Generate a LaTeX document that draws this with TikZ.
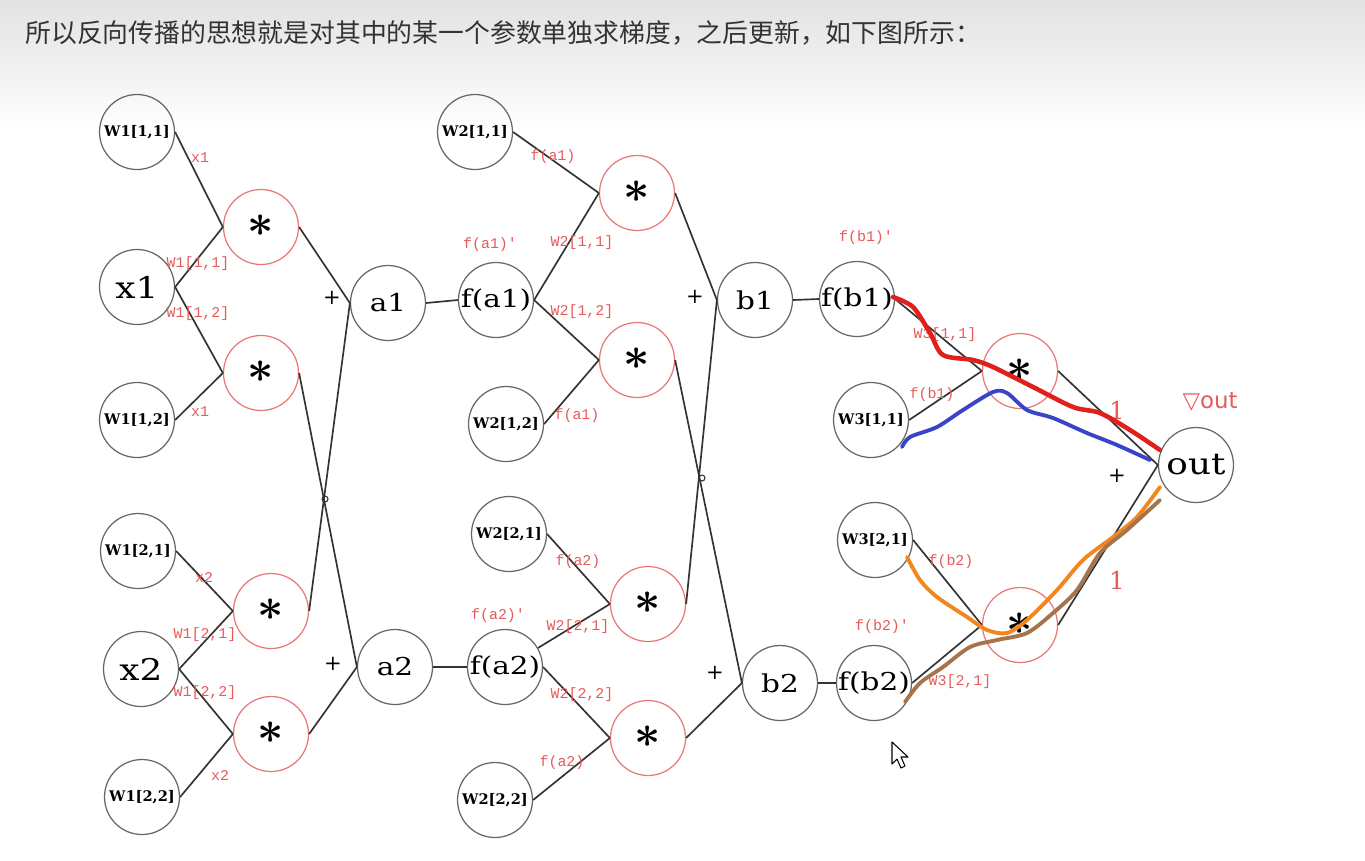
\documentclass[tikz,border=0pt]{standalone}
\usepackage{fontspec}
\usepackage{graphicx}
\newfontfamily\nodefont[FakeStretch=1.2]{DejaVu Serif}
\newfontfamily\wfont{DejaVu Serif}
\newfontfamily\lblfont{Liberation Mono}
\newfontfamily\cjk{Noto Sans CJK SC}
\newfontfamily\symfont{DejaVu Sans}
\definecolor{ngray}{HTML}{666666}
\definecolor{lgray}{HTML}{333333}
\definecolor{rcirc}{HTML}{E87878}
\definecolor{rlbl}{HTML}{E85A5A}
\definecolor{htxt}{HTML}{333333}
\definecolor{hbg}{HTML}{E2E2E2}
\definecolor{pred}{HTML}{E0201C}
\definecolor{pblue}{HTML}{3A44C8}
\definecolor{porange}{HTML}{F3861E}
\definecolor{pbrown}{HTML}{A5744C}
\newcommand\mulsym{\raisebox{2pt}{\scalebox{2.6}{\boldmath$\ast$}}}
\begin{document}
\begin{tikzpicture}[x=0.02cm,y=-0.02cm,
 nd/.style={circle, draw=ngray, line width=0.7pt, minimum size=1.5cm, inner sep=0pt, font=\nodefont\fontsize{14}{14}\selectfont},
 bigtxt/.style={font=\nodefont\fontsize{17}{17}\selectfont},
 wn/.style={font=\wfont\bfseries\fontsize{8.3}{9}\selectfont},
 rd/.style={circle, draw=rcirc, line width=0.7pt, minimum size=1.5cm, inner sep=0pt},
 lbl/.style={text=rlbl, font=\lblfont\fontsize{8.5}{9}\selectfont, inner sep=0pt},
 ln/.style={draw=lgray, line width=0.95pt},
 pls/.style={font=\wfont\fontsize{12}{12}\selectfont, inner sep=0pt},
 onelbl/.style={text=rlbl, font=\wfont\fontsize{14}{14}\selectfont, inner sep=0pt},
 pen/.style={line width=2.2pt, line cap=round, line join=round}
]
\useasboundingbox (0,0) rectangle (1365,860);
\fill[white] (0,0) rectangle (1365,860);
\shade[top color=hbg, bottom color=white] (0,0) rectangle (1365,130);
\node[anchor=west, text=htxt, font=\cjk\fontsize{14.7}{15}\selectfont, inner sep=0pt] (hdr) at (25,33) {所以反向传播的思想就是对其中的某一个参数单独求梯度，之后更新，如下图所示：};

% layer 1
\node[nd,wn] (w11) at (137,132) {W1[1,1]};
\node[nd,bigtxt] (x1) at (137,287) {x1};
\node[nd,wn] (w12) at (137,420) {W1[1,2]};
\node[rd] (m1) at (261,227) {\mulsym};
\node[rd] (m2) at (261,373) {\mulsym};
\node[nd] (a1) at (388,303) {a1};
\node[nd,wn] (w21) at (138,551) {W1[2,1]};
\node[nd,bigtxt] (x2) at (141,669) {x2};
\node[nd,wn] (w22) at (142,797) {W1[2,2]};
\node[rd] (m3) at (271,611) {\mulsym};
\node[rd] (m4) at (271,734) {\mulsym};
\node[nd] (a2) at (395,667) {a2};

% layer 2
\node[nd,wn] (v11) at (475,132) {W2[1,1]};
\node[nd] (fa1) at (496,300) {f(a1)};
\node[nd,wn] (v12) at (506,424) {W2[1,2]};
\node[rd] (n1) at (637,193) {\mulsym};
\node[rd] (n2) at (637,360) {\mulsym};
\node[nd] (b1) at (755,300) {b1};
\node[nd,wn] (v21) at (509,534) {W2[2,1]};
\node[nd] (fa2) at (505,667) {f(a2)};
\node[nd,wn] (v22) at (495,800) {W2[2,2]};
\node[rd] (n3) at (648,604) {\mulsym};
\node[rd] (n4) at (648,738) {\mulsym};
\node[nd] (b2) at (780,683) {b2};

% layer 3
\node[nd] (fb1) at (857,299) {f(b1)};
\node[nd,wn] (u11) at (871,420) {W3[1,1]};
\node[rd] (p1) at (1020,371) {\mulsym};
\node[nd,bigtxt] (out) at (1196,465) {out};
\node[nd,wn] (u21) at (875,540) {W3[2,1]};
\node[nd] (fb2) at (874,683) {f(b2)};
\node[rd] (p2) at (1020,625) {\mulsym};

% connectors layer 1
\draw[ln] (w11.east) -- (m1.west);
\draw[ln] (x1.east) -- (m1.west);
\draw[ln] (x1.east) -- (m2.west);
\draw[ln] (w12.east) -- (m2.west);
\draw[ln] (w21.east) -- (m3.west);
\draw[ln] (x2.east) -- (m3.west);
\draw[ln] (x2.east) -- (m4.west);
\draw[ln] (w22.east) -- (m4.west);
\draw[ln] (m1.east) -- (a1.west);
\draw[ln] (m2.east) -- (a2.west);
\draw[ln] (m3.east) -- (a1.west);
\draw[ln] (m4.east) -- (a2.west);
\draw[ln, line width=0.6pt] (325,499) circle [radius=0.06cm];
\draw[ln] (a1.east) -- (fa1.west);
\draw[ln] (a2.east) -- (fa2.west);

% connectors layer 2
\draw[ln] (v11.east) -- (n1.west);
\draw[ln] (fa1.east) -- (n1.west);
\draw[ln] (fa1.east) -- (n2.west);
\draw[ln] (v12.east) -- (n2.west);
\draw[ln] (v21.east) -- (n3.west);
\draw[ln] (fa2.30) -- (n3.west);
\draw[ln] (fa2.east) -- (n4.west);
\draw[ln] (v22.east) -- (n4.west);
\draw[ln] (n1.east) -- (b1.west);
\draw[ln] (n2.east) -- (b2.west);
\draw[ln] (n3.east) -- (b1.west);
\draw[ln] (n4.east) -- (b2.west);
\draw[ln, line width=0.6pt] (702,478) circle [radius=0.06cm];
\draw[ln] (b1.east) -- (fb1.west);
\draw[ln] (b2.east) -- (fb2.west);

% connectors layer 3
\draw[ln] (fb1.east) -- (p1.west);
\draw[ln] (u11.east) -- (p1.west);
\draw[ln] (p1.east) -- (out.west);
\draw[ln] (u21.east) -- (p2.west);
\draw[ln] (fb2.east) -- (p2.west);
\draw[ln] (p2.east) -- (out.west);

% labels layer 1
\node[lbl] (l1) at (200,158) {x1};
\node[lbl] (l2) at (198,264) {W1[1,1]};
\node[lbl] (l3) at (198,314) {W1[1,2]};
\node[lbl] (l4) at (200,412) {x1};
\node[lbl] (l5) at (204,577) {x2};
\node[lbl] (l6) at (205,635) {W1[2,1]};
\node[lbl] (l7) at (205,693) {W1[2,2]};
\node[lbl] (l8) at (220,775) {x2};
\node[pls] (s1) at (332,298) {+};
\node[pls] (s2) at (333,664) {+};

% labels layer 2
\node[lbl] (l9) at (553,157) {f(a1)};
\node[lbl] (l10) at (490,245) {f(a1)'};
\node[lbl] (l11) at (582,243) {W2[1,1]};
\node[lbl] (l12) at (582,312) {W2[1,2]};
\node[lbl] (l13) at (577,416) {f(a1)};
\node[pls] (s3) at (695,297) {+};
\node[lbl] (l14) at (578,562) {f(a2)};
\node[lbl] (l15) at (498,616) {f(a2)'};
\node[lbl] (l16) at (578,627) {W2[2,1]};
\node[lbl] (l17) at (582,695) {W2[2,2]};
\node[lbl] (l18) at (562,763) {f(a2)};
\node[pls] (s4) at (715,673) {+};

% labels layer 3
\node[lbl] (l19) at (866,238) {f(b1)'};
\node[lbl] (l20) at (945,335) {W3[1,1]};
\node[lbl] (l21) at (932,395) {f(b1)};
\node[onelbl] (l22) at (1117,410) {1};
\node[text=rlbl, font=\symfont\fontsize{13}{13}\selectfont, inner sep=0pt] (l23) at (1210,402) {▽out};
\node[pls] (s5) at (1117,476) {+};
\node[lbl] (l24) at (951,562) {f(b2)};
\node[onelbl] (l25) at (1117,580) {1};
\node[lbl] (l26) at (882,627) {f(b2)'};
\node[lbl] (l27) at (960,682) {W3[2,1]};

% hand-drawn strokes
\draw[pen, pred, line width=2.6pt] plot[smooth, tension=0.5] coordinates {(893,297) (913,307) (930,333) (943,355) (973,360) (993,367) (1033,387) (1073,407) (1100,413) (1130,430) (1160,450)};
\draw[pen, pblue] plot[smooth, tension=0.5] coordinates {(902,447) (910,437) (937,427) (963,410) (993,392) (1007,393) (1027,410) (1053,418) (1087,433) (1117,445) (1150,460)};
\draw[pen, porange] plot[smooth, tension=0.5] coordinates {(907,557) (920,580) (937,597) (967,617) (987,630) (1007,633) (1027,620) (1057,590) (1083,560) (1113,537) (1137,517) (1160,487)};
\draw[pen, pbrown] plot[smooth, tension=0.5] coordinates {(905,702) (920,683) (943,667) (970,647) (997,640) (1027,633) (1053,613) (1077,590) (1100,553) (1127,530) (1160,500)};

% mouse pointer
\draw[line width=0.6pt, fill=white, line join=round] (892,742) -- (892,764) -- (897,759) -- (901,768) -- (905,766) -- (901,757) -- (908,757) -- cycle;
\end{tikzpicture}
\end{document}
